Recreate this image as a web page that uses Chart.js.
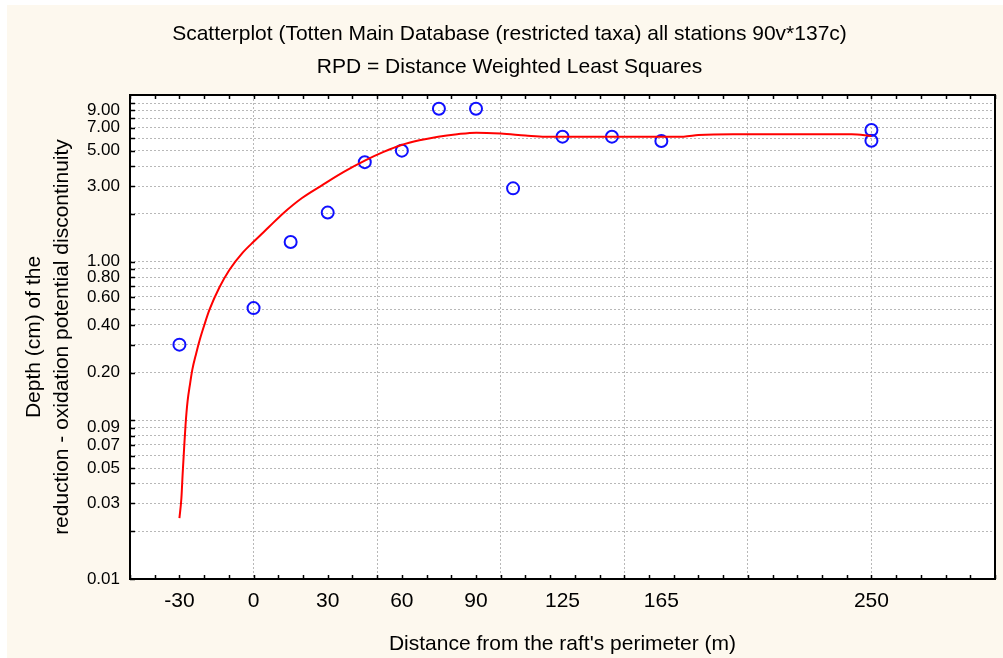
<!DOCTYPE html>
<html>
<head>
<meta charset="utf-8">
<script src="https://cdn.jsdelivr.net/npm/chart.js@4.4.1/dist/chart.umd.min.js"></script>
<style>
  html, body { margin: 0; padding: 0; background: #ffffff; }
  #wrap { position: absolute; left: 7px; top: 5px; width: 996px; height: 653px; background: #fdf8ee; }
</style>
</head>
<body>
<div id="wrap"><canvas id="myChart" width="996" height="653"></canvas></div>
<script>
// stations: distance from raft (m) and RPD depth (cm)
const stationX = [-30, 0, 15, 30, 45, 60, 75, 90, 105, 125, 145, 165, 250, 250];
const rpdDepth = [0.30, 0.51, 1.33, 2.04, 4.24, 5.01, 9.2, 9.2, 2.9, 6.14, 6.14, 5.77, 6.77, 5.79];

// distance weighted least squares curve
const fitX = [-30, -29.2, -28.7, -28.1, -27.5, -26.7, -25.7, -24.8, -23.2, -21.8, -19.8, -17.8, -13.8, -9.8, -4.4,
  0.3, 6.3, 11.7, 19.6, 27.8, 36.5, 45.2, 52.6, 59.9, 67.1, 74.7, 82.4, 90.1, 100, 110, 118, 174, 180, 194, 242, 250];
const fitY = [0.0242, 0.0324, 0.0459, 0.0669, 0.0948, 0.132, 0.170, 0.208, 0.265, 0.321, 0.405, 0.50, 0.69, 0.887, 1.14,
  1.35, 1.66, 2.0, 2.52, 3.04, 3.68, 4.35, 4.92, 5.44, 5.82, 6.14, 6.36, 6.50, 6.42, 6.25, 6.14, 6.14, 6.28, 6.36, 6.36, 6.2];

const xTickLabels = [-30, 0, 30, 60, 90, 125, 165, 250];
const xGridValues = [0, 50, 100, 150, 200, 250];
const yTickLabels = [0.01, 0.03, 0.05, 0.07, 0.09, 0.2, 0.4, 0.6, 0.8, 1, 3, 5, 7, 9];
const yGridValues = [0.01, 0.02, 0.03, 0.04, 0.05, 0.06, 0.07, 0.08, 0.09,
  0.1, 0.2, 0.3, 0.4, 0.5, 0.6, 0.7, 0.8, 0.9,
  1, 2, 3, 4, 5, 6, 7, 8, 9, 10];

const titleLines = ['Scatterplot (Totten Main Database (restricted taxa) all stations 90v*137c)',
  'RPD = Distance Weighted Least Squares'];
const xTitle = "Distance from the raft's perimeter (m)";
const yTitle = ['Depth (cm) of the', 'reduction - oxidation potential discontinuity'];

const FONT = "'Liberation Sans', Arial, sans-serif";

function toPoints(xs, ys) {
  return xs.map((x, i) => ({ x: x, y: ys[i] }));
}

// white plot area, black frame and the small inward ticks
const frameAndTicks = {
  id: 'frameAndTicks',
  beforeDraw(chart) {
    const { ctx, chartArea: a } = chart;
    ctx.save();
    ctx.fillStyle = '#ffffff';
    ctx.fillRect(a.left, a.top, a.right - a.left, a.bottom - a.top);
    ctx.restore();
  },
  afterDraw(chart) {
    const { ctx, chartArea: a, scales } = chart;
    ctx.save();
    ctx.strokeStyle = '#000000';
    ctx.lineWidth = 1.5;
    ctx.beginPath();
    for (let v = -50; v <= 300; v += 10) {
      const px = Math.round(scales.x.getPixelForValue(v)) + 0.5;
      ctx.moveTo(px, a.bottom);
      ctx.lineTo(px, a.bottom - 4);
      ctx.moveTo(px, a.top);
      ctx.lineTo(px, a.top + 4);
    }
    scales.y.ticks.forEach(function (t) {
      const py = Math.round(scales.y.getPixelForValue(t.value)) + 0.5;
      ctx.moveTo(a.left, py);
      ctx.lineTo(a.left + 5, py);
    });
    ctx.stroke();
    ctx.lineWidth = 2;
    ctx.strokeRect(a.left, a.top, a.right - a.left, a.bottom - a.top);
    ctx.restore();
  }
};

function createChart() {
  const ctx = document.getElementById('myChart').getContext('2d');
  return new Chart(ctx, {
    type: 'scatter',
    data: {
      datasets: [
        {
          data: toPoints(fitX, fitY),
          showLine: true,
          borderColor: '#ff0000',
          borderWidth: 2,
          pointRadius: 0,
          cubicInterpolationMode: 'monotone',
          order: 0
        },
        {
          data: toPoints(stationX, rpdDepth),
          pointRadius: 6,
          pointBorderWidth: 2,
          pointBorderColor: '#1010ff',
          pointBackgroundColor: 'rgba(0,0,0,0)',
          order: 1
        }
      ]
    },
    options: {
      responsive: false,
      animation: false,
      events: [],
      layout: { padding: { left: 12, right: 3, top: 0, bottom: 0 } },
      plugins: {
        legend: { display: false },
        tooltip: { enabled: false },
        title: {
          display: true,
          text: titleLines,
          color: '#000000',
          font: { family: FONT, size: 21, weight: 'normal', lineHeight: '33.5px' },
          padding: { top: 12.25, bottom: 10.75 }
        }
      },
      scales: {
        x: {
          type: 'linear',
          min: -50,
          max: 300,
          afterBuildTicks: function (scale) {
            const vals = xTickLabels.concat(xGridValues).filter((v, i, arr) => arr.indexOf(v) === i);
            vals.sort((a, b) => a - b);
            scale.ticks = vals.map(v => ({ value: v }));
          },
          afterFit: function (scale) { scale.height = 79; },
          grid: {
            drawTicks: false,
            lineWidth: 1,
            color: c => (c.tick && xGridValues.includes(c.tick.value)) ? '#b8b8b8' : 'rgba(0,0,0,0)'
          },
          border: { display: false, dash: [2, 2] },
          ticks: {
            autoSkip: false,
            maxRotation: 0,
            padding: 10,
            color: '#000000',
            font: { family: FONT, size: 21 },
            callback: v => xTickLabels.includes(v) ? String(v) : ''
          },
          title: {
            display: true,
            text: xTitle,
            color: '#000000',
            font: { family: FONT, size: 21, lineHeight: '24px' },
            padding: { top: 0, bottom: 2 }
          }
        },
        y: {
          type: 'logarithmic',
          min: 0.01,
          max: 11.24,
          afterBuildTicks: function (scale) {
            scale.ticks = yGridValues.map(v => ({ value: v }));
          },
          afterFit: function (scale) { scale.width = 111; },
          grid: {
            drawTicks: false,
            lineWidth: 1,
            color: '#b8b8b8'
          },
          border: { display: false, dash: [2, 2] },
          ticks: {
            autoSkip: false,
            padding: 10,
            color: '#000000',
            font: { family: FONT, size: 17 },
            callback: v => yTickLabels.includes(v) ? v.toFixed(2) : ''
          },
          title: {
            display: true,
            text: yTitle,
            color: '#000000',
            font: { family: FONT, size: 21, lineHeight: '28px' },
            padding: { top: 1, bottom: 0 }
          }
        }
      }
    },
    plugins: [frameAndTicks]
  });
}

createChart();
</script>
</body>
</html>
